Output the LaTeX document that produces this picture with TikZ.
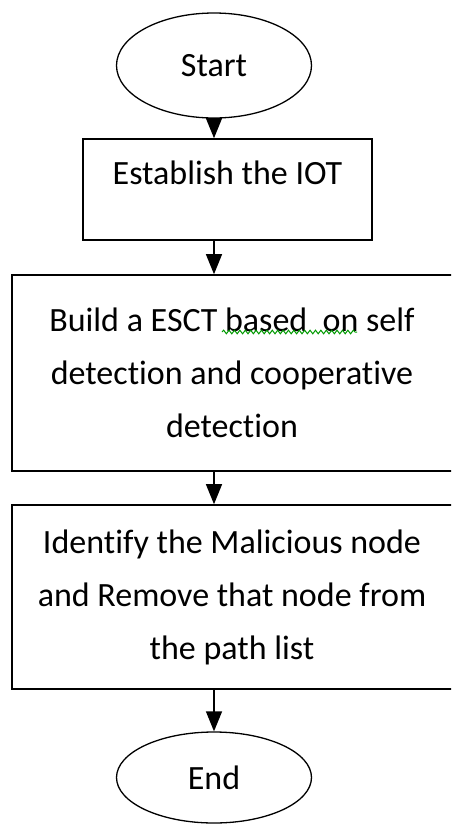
\documentclass[tikz,border=0pt]{standalone}
\usepackage{fontspec}
\setmainfont[Ligatures=NoCommon]{Carlito}
\usetikzlibrary{shapes.geometric,arrows.meta,decorations.pathmorphing}

\begin{document}
\begin{tikzpicture}[x=1pt,y=-1pt,
    every node/.style={font=\fontsize{34}{53}\selectfont},
    terminal/.style={ellipse,draw,line width=1.3pt,minimum width=195pt,inner sep=0pt},
    stepbox/.style={rectangle,draw,line width=1.6pt,align=center,inner sep=0pt},
    flow/.style={line width=1.3pt,-{Triangle[length=20pt,width=16pt]}}]
  \useasboundingbox (0,0) rectangle (451,825);
  \clip (0,0) rectangle (451,825);

  % terminals
  \node[terminal,minimum height=105pt] (start) at (214,65.5) {Start};
  \node[terminal,minimum height=91pt]  (end)   at (214,777.5) {End};

  % process steps (the two wide boxes run past the right margin)
  \node[stepbox,minimum width=289pt,minimum height=101pt,
        text height=22pt,text depth=33pt] (iot) at (227.5,189.5) {Establish the IOT};
  \node[stepbox,minimum width=446pt,minimum height=196pt] (esct) at (235,373)
    {\hspace*{-6pt}Build a ESCT based\ \ on self\\\hspace*{-6pt}detection and cooperative\\\hspace*{-6pt}detection};
  \node[stepbox,minimum width=446pt,minimum height=184pt] (mal) at (235,597)
    {\hspace*{-6pt}Identify the Malicious node\\\hspace*{-6pt}and Remove that node from\\\hspace*{-6pt}the path list};

  % connectors along the main axis
  \draw[flow] (start.south) -- (start.south |- iot.north);
  \draw[flow] (start.south |- iot.south) -- (start.south |- esct.north);
  \draw[flow] (start.south |- esct.south) -- (start.south |- mal.north);
  \draw[flow] (start.south |- mal.south) -- (end.north);

  % grammar-check squiggle under "based  on"
  \draw[green!60!black,line width=1pt,
        decorate,decoration={snake,segment length=5.4pt,amplitude=1.8pt}]
    (222,332) -- (357,332);
\end{tikzpicture}
\end{document}
